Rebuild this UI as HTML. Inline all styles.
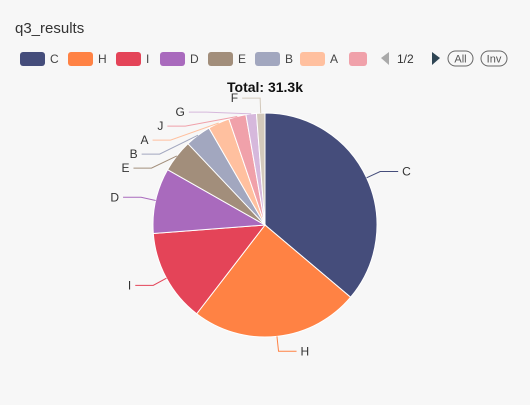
<!DOCTYPE html>
<html><head><meta charset="utf-8"><style>
body{margin:0;background:#f7f7f7;font-family:"Liberation Sans",sans-serif}
#wrap{position:relative;width:530px;height:400px;background:#f7f7f7}
</style></head><body>
<div id="wrap">
<svg id="svg" width="530" height="400">
<text x="15" y="33" font-size="15" fill="#333">q3_results</text>
<g id="legend"></g>
<polygon points="381,58 389,52 389,65" fill="#aaa"/>
<text x="397" y="63" font-size="12" fill="#333">1/2</text>
<polygon points="440,58 432,52 432,65" fill="#2f4554"/>
<g><rect x="448" y="51" width="25" height="15" rx="7.5" fill="none" stroke="#666"/><text x="460.5" y="62.5" font-size="11" text-anchor="middle" fill="#555">All</text></g>
<g><rect x="481" y="51" width="26" height="15" rx="7.5" fill="none" stroke="#666"/><text x="494" y="62.5" font-size="11" text-anchor="middle" fill="#555">Inv</text></g>
<g id="pie"></g>
<text x="265" y="92" font-size="14" font-weight="bold" text-anchor="middle" fill="#111">Total: 31.3k</text>
</svg>
</div>
<script>
const categories=["C","H","I","D","E","B","A","J","G","F"];
const values=[11270,7570,4160,2940,1470,1160,970,780,470,380];
const colors=["#454d7b","#ff8244","#e44458","#a96abd","#a28e7b","#a2a7bf","#ffc09f","#f0a1aa","#d6b8dc","#d3c9bb"];
const legendItems=["C","H","I","D","E","B","A","J"];
const NS="http://www.w3.org/2000/svg";
function mk(t,a,p){const e=document.createElementNS(NS,t);for(const k in a)e.setAttribute(k,a[k]);p.appendChild(e);return e;}
const leg=document.getElementById('legend');
const lx=[20,68,116,160,208,255,300,349];
legendItems.forEach((c,i)=>{
 const g=mk('g',{},leg);
 
 
 const ci=categories.indexOf(c);
 mk('rect',{x:lx[i],y:52,width:i==7?18:25,height:14,rx:3,fill:colors[ci]},g);
 if(i<7){const t=mk('text',{x:lx[i]+30,y:63,'font-size':12,fill:'#444'},g);t.textContent=c;}
});
const cx=265,cy=225,r=112,lr=r+15;
const total=values.reduce((a,b)=>a+b,0);
const pie=document.getElementById('pie');
let a0=0;const labels=[];
values.forEach((v,i)=>{
 const a1=a0+v/total*Math.PI*2;
 const p=a=>[cx+r*Math.sin(a),cy-r*Math.cos(a)];
 const s=p(a0),e=p(a1);
 const path=mk('path',{d:`M${cx},${cy}L${s[0]},${s[1]}A${r},${r} 0 ${a1-a0>Math.PI?1:0} 1 ${e[0]},${e[1]}Z`,fill:colors[i],stroke:'#fff','stroke-width':1},pie);
 
 
 const m=(a0+a1)/2;
 labels.push({i,m,x1:cx+r*Math.sin(m),y1:cy-r*Math.cos(m),x2:cx+lr*Math.sin(m),y2:cy-lr*Math.cos(m),left:Math.sin(m)<0});
 a0=a1;
});
// push crowded left labels downward
const left=labels.filter(l=>l.left).sort((a,b)=>a.y2-b.y2);
for(let k=1;k<left.length;k++){
 if(left[k].y2<left[k-1].y2+14){
  left[k].y2=left[k-1].y2+14;
  const dy=left[k].y2-cy;
  left[k].x2=cx-Math.sqrt(Math.max(0,lr*lr-dy*dy));
 }
}
labels.forEach(l=>{
 const d=l.left?-1:1;
 const x3=l.x2+d*18;
 const pl=mk('polyline',{points:`${l.x1},${l.y1} ${l.x2},${l.y2} ${x3},${l.y2}`,fill:'none',stroke:colors[l.i],'stroke-width':1},pie);
 
 
 const t=mk('text',{x:x3+d*4,y:l.y2+4,'font-size':12,fill:'#333','text-anchor':l.left?'end':'start'},pie);
 
 
 t.textContent=categories[l.i];
});
</script>
</body></html>
